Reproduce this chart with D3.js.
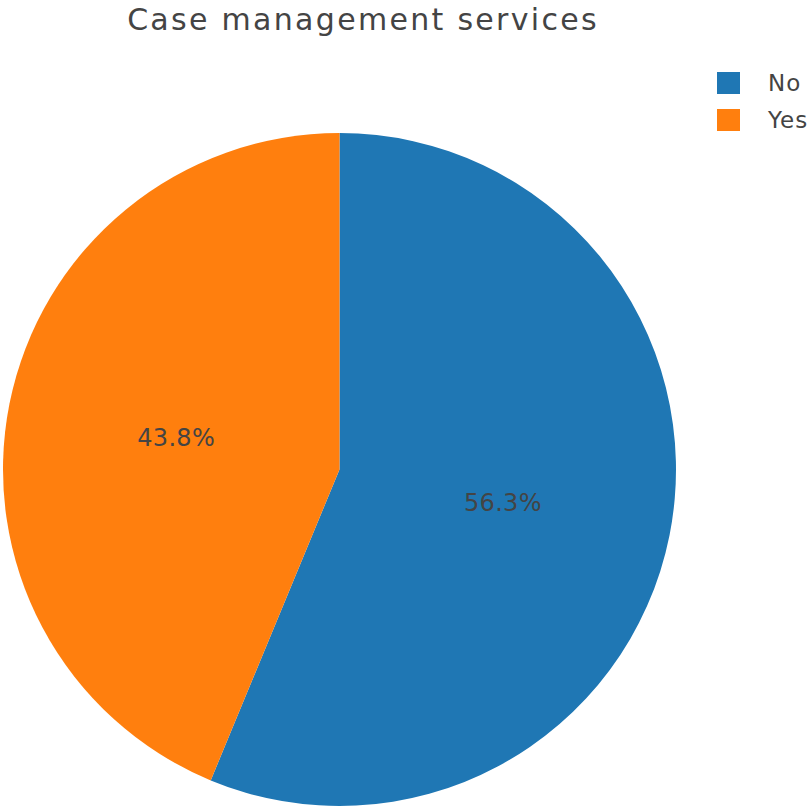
<!DOCTYPE html>
<html><head><meta charset="utf-8">
<script src="https://cdn.jsdelivr.net/npm/d3@7"></script>
<style>body{margin:0;background:#fff}svg{display:block}</style>
</head><body>
<script>
const categories = ["No", "Yes"];
const values = [9, 7];
const colors = ["#1f77b4", "#ff7f0e"];
const title = "Case management services";

const W = 810, H = 809;
const cx = 339.5, cy = 469.5, R = 336.5;
const font = "'DejaVu Sans', Verdana, sans-serif";

const svg = d3.select("body").append("svg").attr("width", W).attr("height", H);

const total = d3.sum(values);
const pie = d3.pie().sort(null).value(d => d.v).startAngle(0).endAngle(2 * Math.PI);
const arcs = pie(categories.map((c, i) => ({c, v: values[i], col: colors[i]})));
const arc = d3.arc().innerRadius(0).outerRadius(R);
const color = d3.scaleOrdinal().domain(categories).range(colors);

const g = svg.append("g").attr("transform", `translate(${cx},${cy})`);
g.selectAll("path").data(arcs).join("path")
  .attr("d", arc).attr("fill", d => color(d.data.c));

const labelArc = d3.arc().innerRadius(R * 0.495).outerRadius(R * 0.495);
g.selectAll("text").data(arcs).join("text")
  .attr("transform", d => `translate(${labelArc.centroid(d)})`)
  .attr("text-anchor", "middle").attr("dy", "0.36em")
  .style("font-family", font).style("font-size", "24px").style("letter-spacing", "0.3px").attr("fill", "#444")
  .text(d => (d.data.v / total * 100).toFixed(1) + "%");

svg.append("text").attr("x", 363).attr("y", 30).attr("text-anchor", "middle")
  .style("font-family", font).style("font-size", "30px").style("letter-spacing", "2.3px").attr("fill", "#444")
  .text(title);

const leg = svg.append("g").attr("transform", "translate(717,72)");
const items = leg.selectAll("g").data(categories).join("g")
  .attr("transform", (d, i) => `translate(0,${i * 37})`);
items.append("rect").attr("width", 23).attr("height", 22).attr("fill", d => color(d));
items.append("text").attr("x", 51).attr("y", 11).attr("dy", "0.36em")
  .style("font-family", font).style("font-size", "23px").style("letter-spacing", "1px").attr("fill", "#444")
  .text(d => d);
</script>
</body></html>
